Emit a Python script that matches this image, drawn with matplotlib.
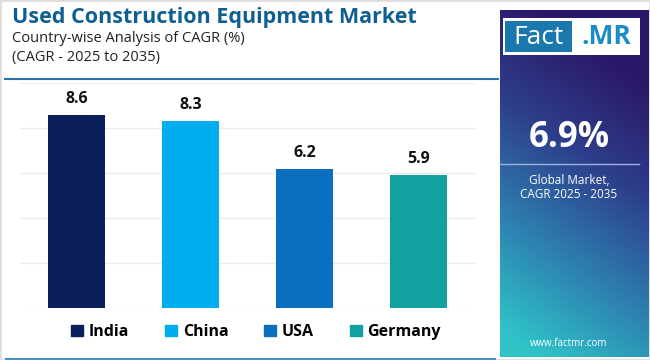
import numpy as np
import matplotlib.pyplot as plt
from matplotlib.colors import LinearSegmentedColormap
from matplotlib.patches import Rectangle

# chart data
countries = ["India", "China", "USA", "Germany"]
cagr = [8.6, 8.3, 6.2, 5.9]
bar_colors = ["#0a1f5c", "#00aeef", "#0b6fbf", "#12a0a0"]
global_cagr = "6.9%"

plt.rcParams['font.family'] = ['Open Sans', 'DejaVu Sans']

fig = plt.figure(figsize=(6.5, 3.6), dpi=100)
W, H = 650, 360

def fx(px):
    return px / W

def fy(py):
    return 1 - py / H

# light frame around the card
fig.patches.append(Rectangle((0, 0), 1, 1, transform=fig.transFigure,
                             fill=False, edgecolor="#dddddd", linewidth=2))
fig.add_artist(plt.Line2D([fx(6), fx(495)], [fy(358.5), fy(358.5)], color="#4f8fbd",
                          linewidth=1.5, transform=fig.transFigure))

# header
fig.text(fx(12), fy(18), "Used Construction Equipment Market", fontsize=15.5,
         fontweight="bold", color="#0f5f93", va="center", ha="left")
fig.text(fx(12), fy(39), "Country-wise Analysis of CAGR (%)", fontsize=10.5,
         color="#222222", va="center", ha="left")
fig.text(fx(12), fy(58), "(CAGR - 2025 to 2035)", fontsize=10.5,
         color="#222222", va="center", ha="left")
fig.add_artist(plt.Line2D([fx(5), fx(498)], [fy(79), fy(79)], color="#2f74a8",
                          linewidth=1.5, transform=fig.transFigure))

# bar chart
ax = fig.add_axes([fx(20), fy(308), fx(455), (308 - 83) / H])
x = np.arange(len(countries))
bars = ax.bar(x, cagr, width=0.5, color=bar_colors, zorder=3)
for b, v in zip(bars, cagr):
    ax.text(b.get_x() + b.get_width() / 2, v + 0.35, f"{v}", ha="center",
            va="bottom", fontsize=11.5, fontweight="bold", color="#111111")
ax.set_xlim(-0.5, 3.5)
ax.set_ylim(0, 10)
ax.set_yticks(np.arange(0, 11, 2))
ax.grid(axis="y", color="#ececec", linewidth=0.8, zorder=0)
ax.set_xticks([])
ax.tick_params(left=False, labelleft=False)
for s in ax.spines.values():
    s.set_visible(False)

# legend
handles = [Rectangle((0, 0), 1, 1, color=c) for c in bar_colors]
fig.legend(handles, countries, loc="center", bbox_to_anchor=(fx(256), fy(332)),
           ncol=4, frameon=False, handlelength=0.75, handleheight=0.75,
           handletextpad=0.35, columnspacing=2.25,
           prop={"size": 11.5, "weight": "bold"})

# right side panel with gradient
pax = fig.add_axes([fx(500), fy(357), fx(148), (357 - 10) / H])
cmap = LinearSegmentedColormap.from_list("panel", ["#2b1868", "#2d3f8c", "#2d7fb0", "#2fc3c8"])
yy, xx = np.mgrid[0:1:200j, 0:1:100j]
t = np.clip(yy * 1.0 + (1 - xx) * 0.3 - 0.22, 0, 1)
pax.imshow(t, cmap=cmap, aspect="auto", extent=(0, 1, 1, 0), vmin=0, vmax=1)
pax.set_xlim(0, 1)
pax.set_ylim(1, 0)
pax.axis("off")

# logo
fig.patches.append(Rectangle((fx(503), fy(55)), fx(137), (55 - 18) / H,
                             transform=fig.transFigure, facecolor="white", edgecolor="none"))
fig.patches.append(Rectangle((fx(505), fy(52)), fx(67), (52 - 21) / H,
                             transform=fig.transFigure, facecolor="#1a78ad", edgecolor="none"))
fig.text(fx(538), fy(37), "Fact", fontsize=19, color="white", ha="center", va="center")
fig.text(fx(606), fy(37), ".MR", fontsize=19, fontweight="bold", color="#1a8cc6",
         ha="center", va="center")

fig.text(fx(569), fy(138), global_cagr, fontsize=25, fontweight="bold", color="white",
         ha="center", va="center")
fig.add_artist(plt.Line2D([fx(500), fx(639)], [fy(164), fy(164)], color="#9fb4d6",
                          linewidth=1, transform=fig.transFigure))
fig.text(fx(569), fy(180), "Global Market,", fontsize=8.5, color="white",
         ha="center", va="center")
fig.text(fx(569), fy(195), "CAGR 2025 - 2035", fontsize=8.5, color="white",
         ha="center", va="center")
fig.text(fx(569), fy(343), "www.factmr.com", fontsize=7, color="white",
         ha="center", va="center")

fig.savefig("out.png", dpi=100)
